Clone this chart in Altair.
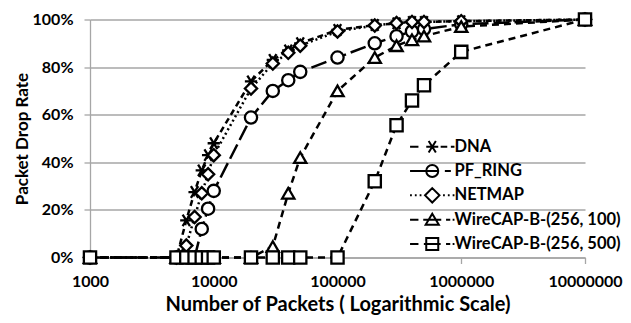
import altair as alt
import pandas as pd

packets = [1000, 5000, 6000, 7000, 8000, 9000, 10000, 20000, 30000, 40000, 50000,
           100000, 200000, 300000, 400000, 500000, 1000000, 10000000]

dna = [0, 0, 15.6, 27.5, 36.6, 43, 48, 74, 83, 87, 90, 95.6, 97.7, 98.4, 99, 99, 99.3, 100]
pf_ring = [0, 0, 0, 0, 12, 20.5, 28, 58.8, 70, 74.5, 78, 84, 90, 93, 95, 96, 98, 100]
netmap = [0, 0, 5, 17, 27, 35, 43, 71, 81.5, 86, 89, 95, 97.5, 98.5, 99, 99, 99.3, 100]
wirecap_100 = [0, 0, 0, 0, 0, 0, 0, 0, 4.6, 27, 42, 70, 84, 89, 91.5, 93, 97, 100]
wirecap_500 = [0, 0, 0, 0, 0, 0, 0, 0, 0, 0, 0, 0, 32, 55.6, 66, 72.4, 86.4, 100]

series_names = ["DNA", "PF_RING", "NETMAP", "WireCAP-B-(256, 100)", "WireCAP-B-(256, 500)"]
series_values = [dna, pf_ring, netmap, wirecap_100, wirecap_500]

y_ticks = [0, 20, 40, 60, 80, 100]
x_ticks = [1000, 10000, 100000, 1000000, 10000000]

rows = []
for name, vals in zip(series_names, series_values):
    for p, v in zip(packets, vals):
        rows.append({"series": name, "packets": p, "pct": v})
df = pd.DataFrame(rows)

FONT = "Lato"
GRAY = "#a6a6a6"

asterisk = "M-1,0L1,0M-0.6,-0.95L0.6,0.95M-0.6,0.95L0.6,-0.95"
plot_shapes = [asterisk, "circle", "diamond", "triangle-up", "square"]
dashes = [[6, 4], [16, 5], [2, 3], [7, 5], [7, 5]]

# legend symbols: line sample + marker, in units of marker radius
circ = "M1,0A1,1 0 1,1 -1,0A1,1 0 1,1 1,0Z"
legend_paths = [
    "M-3.7,0L-2.3,0M1.4,0L2.5,0M3.1,0L3.7,0" + asterisk,
    "M-3.7,0L1,0M2.1,0L3.1,0" + circ,
    "M-3.7,0L-3.4,0M-2.9,0L-2.6,0M-2.1,0L-1.8,0M1.8,0L2.1,0M2.6,0L2.9,0M3.4,0L3.7,0"
    + "M0,-1.2L1.2,0L0,1.2L-1.2,0Z",
    "M-3.7,0L-2.3,0M-1.5,0L1.5,0M2.3,0L3,0M3.4,0L3.7,0M0,-1L1.1,0.85L-1.1,0.85Z",
    "M-3.7,0L-2.3,0M-1.4,0L1.4,0M2.3,0L3,0M3.4,0L3.7,0M-1,-1L1,-1L1,1L-1,1Z",
]

x_enc = alt.X("packets:Q",
              scale=alt.Scale(type="log", domain=[1000, 10000000]),
              axis=alt.Axis(values=x_ticks, format="d", grid=False, labelFlush=False,
                            title="Number of Packets ( Logarithmic Scale)",
                            tickSize=6, labelPadding=10, titlePadding=5,
                            labelFontSize=16, titleFontSize=20))
y_enc = alt.Y("pct:Q",
              scale=alt.Scale(domain=[0, 100]),
              axis=alt.Axis(values=y_ticks, labelExpr="datum.value + '%'",
                            title="Packet Drop Rate", grid=True,
                            tickSize=6, labelPadding=11, titlePadding=1,
                            labelFontSize=16, titleFontSize=17))

base = alt.Chart(df)

lines = base.mark_line(color="black", strokeWidth=2.5).encode(
    x=x_enc, y=y_enc,
    strokeDash=alt.StrokeDash("series:N",
                              scale=alt.Scale(domain=series_names, range=dashes),
                              legend=None),
)

points = base.mark_point(filled=True, fill="white", stroke="black",
                         strokeWidth=2.3, size=150, opacity=1).encode(
    x=x_enc, y=y_enc,
    shape=alt.Shape("series:N",
                    scale=alt.Scale(domain=series_names, range=plot_shapes),
                    legend=None),
)

legend_layer = base.transform_filter("datum.pct > 1000").mark_point(
    filled=False, color="black", strokeWidth=2, size=144, opacity=1
).encode(
    x=x_enc, y=y_enc,
    shape=alt.Shape("series:N",
                    scale=alt.Scale(domain=series_names, range=legend_paths),
                    legend=alt.Legend(title=None, orient="none",
                                      legendX=334, legendY=119,
                                      symbolSize=144, symbolStrokeWidth=2,
                                      symbolStrokeColor="black", symbolOpacity=1,
                                      labelOffset=14, rowPadding=1.3,
                                      gridAlign="all", labelLimit=400,
                                      labelFont=FONT, labelFontSize=16.5,
                                      labelFontWeight="bold", labelColor="black",
                                      padding=0)),
)

chart = alt.layer(lines, points, legend_layer).resolve_scale(
    shape="independent"
).properties(
    width=495, height=238,
    autosize=alt.AutoSizeParams(type="none"),
    padding={"left": 82, "top": 11.5, "right": 38, "bottom": 57.5},
).configure_view(stroke=None).configure_axis(
    labelFont=FONT, titleFont=FONT, labelFontWeight="bold", titleFontWeight="bold",
    labelColor="black", titleColor="black", domainColor=GRAY, tickColor=GRAY,
    gridColor=GRAY, gridWidth=1.3, domainWidth=1.3, tickWidth=1.3,
)

chart.save("out.html", embed_options={"renderer": "svg", "actions": False})
